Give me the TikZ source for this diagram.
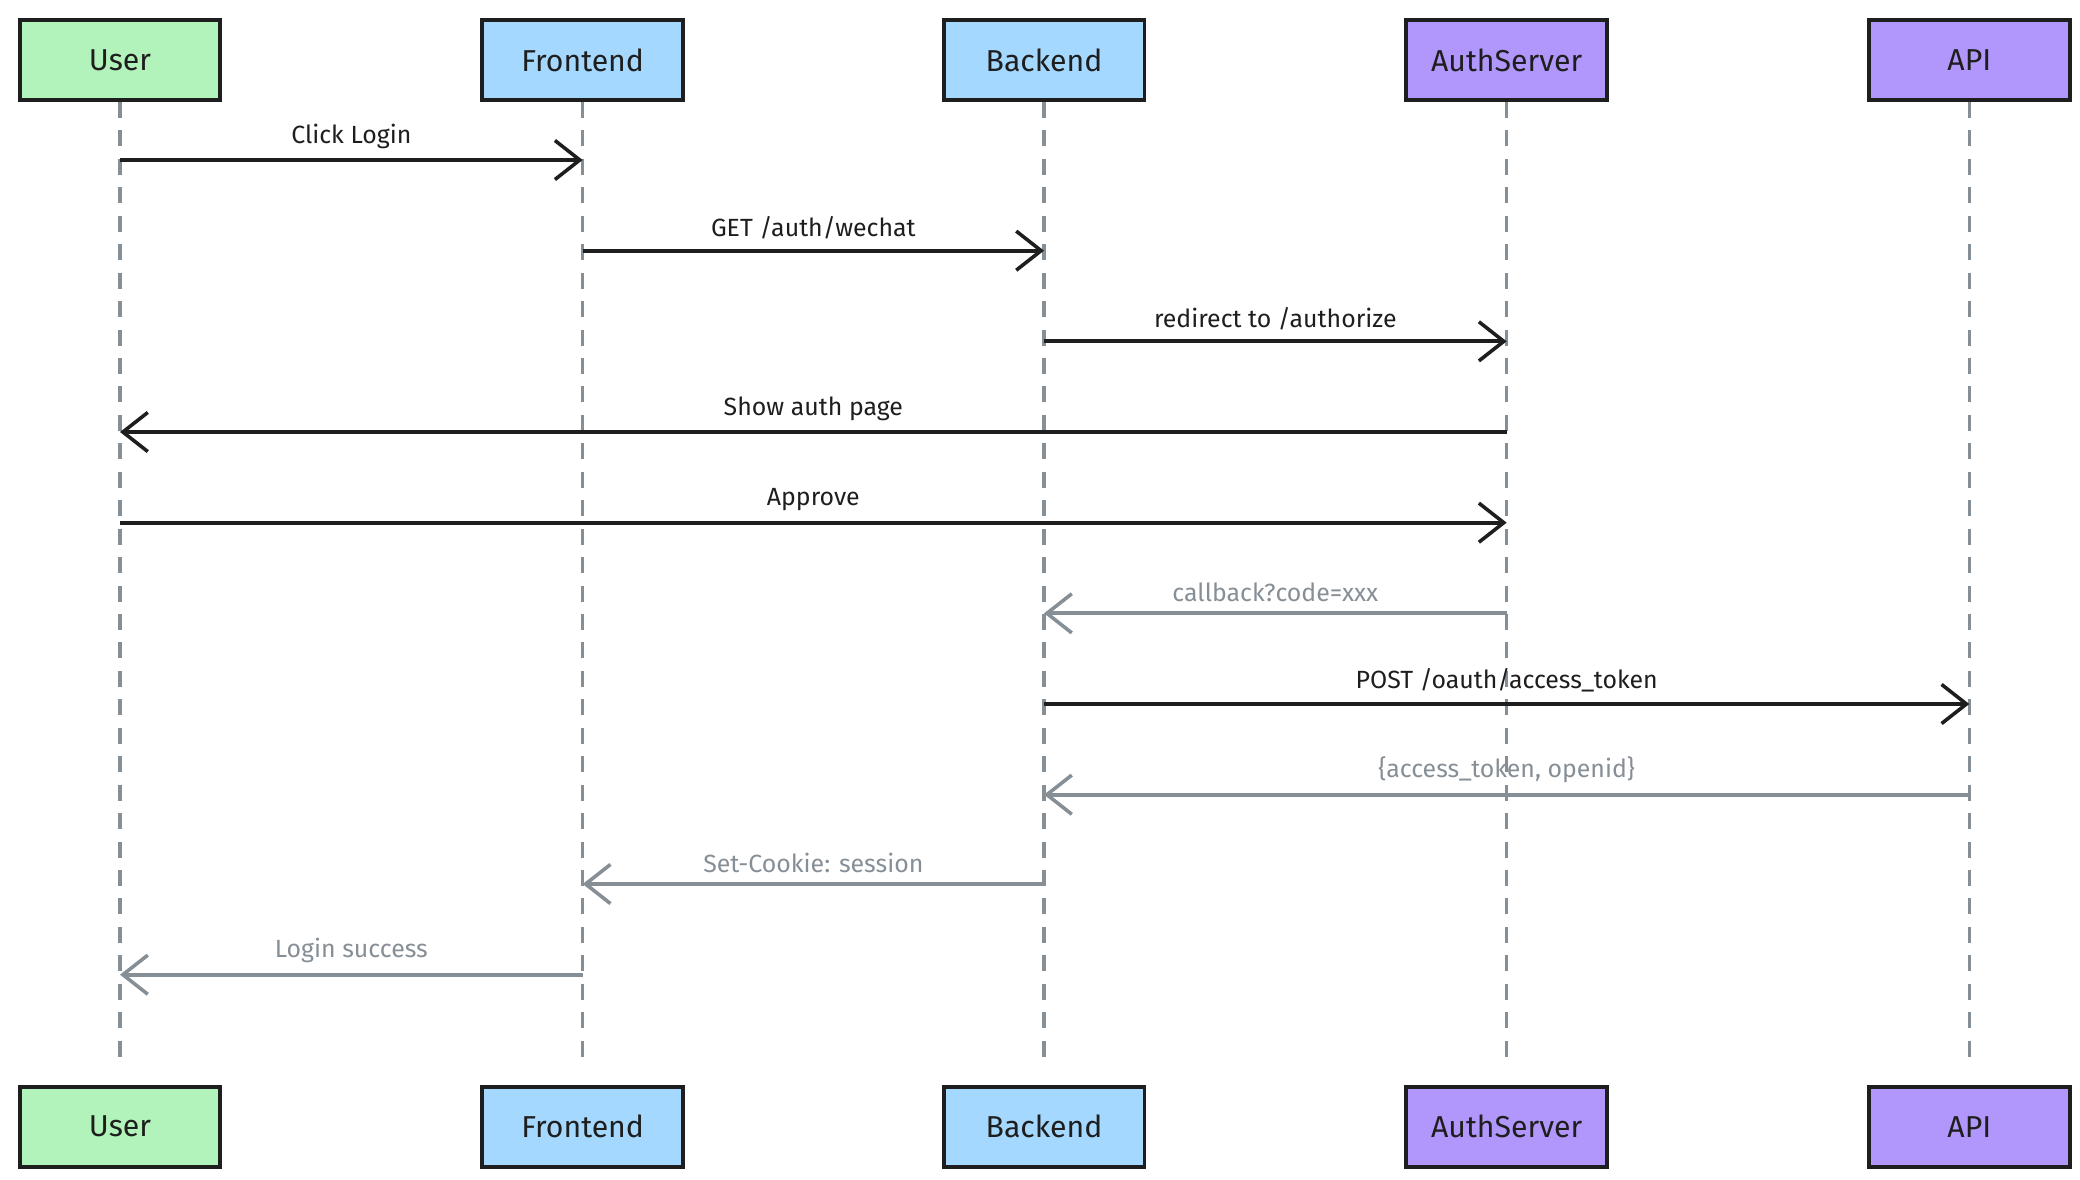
\documentclass[tikz,border=0pt]{standalone}
\usepackage{fontspec}
\setmainfont{Fira Sans}
\usetikzlibrary{arrows.meta}
\definecolor{cg}{HTML}{B2F2BB}
\definecolor{cb}{HTML}{A5D8FF}
\definecolor{cp}{HTML}{B197FC}
\definecolor{gr}{HTML}{868E96}
\definecolor{ink}{HTML}{1E1E1E}
\begin{document}
\begin{tikzpicture}[x=0.75pt,y=-0.75pt,
 actor/.style={draw=ink,line width=2.2pt,minimum width=113pt,minimum height=45pt,font=\fontsize{17}{20}\selectfont,text=ink},
 life/.style={gr,line width=2pt,dash pattern=on 9pt off 7pt},
 msg/.style={ink,line width=2.4pt,-{Straight Barb[length=14pt,width=22pt,line width=2pt]}},
 ret/.style={gr,line width=2.4pt,-{Straight Barb[length=14pt,width=22pt,line width=2pt]}},
 lab/.style={font=\fontsize{14}{16}\selectfont,text=ink,above=2pt},
 rlab/.style={font=\fontsize{14}{16}\selectfont,text=gr,above=2pt}]
\useasboundingbox (0,0) rectangle (1560,885);
\foreach \n/\x/\c/\t in {u/90/cg/User,f/437/cb/Frontend,b/783/cb/Backend,a/1130/cp/AuthServer,p/1477/cp/API}{
 \node[actor,fill=\c] (\n t) at (\x,45) {\t};
 \node[actor,fill=\c] (\n b) at (\x,845) {\t};
 \draw[life] (\n t.south) -- (\x,795);
 \coordinate (\n) at (\x,0);
}
\newcommand\msgl[7]{\path (#1 |- 0,#3) coordinate (s#7); \path (#2 |- 0,#3) coordinate (e#7);
 \draw[#4] (s#7) -- node[#5]{#6} (e#7);}
\msgl{u}{f}{120}{msg}{lab}{Click Login}{m1}
\msgl{f}{b}{188}{msg}{lab}{GET /auth/wechat}{m2}
\msgl{b}{a}{256}{msg}{lab}{redirect to /authorize}{m3}
\msgl{a}{u}{324}{msg}{lab}{Show auth page}{m4}
\msgl{u}{a}{392}{msg}{lab}{Approve}{m5}
\msgl{a}{b}{460}{ret}{rlab}{callback?code=xxx}{m6}
\msgl{b}{p}{528}{msg}{lab}{POST /oauth/access\_token}{m7}
\msgl{p}{b}{596}{ret}{rlab}{\{access\_token, openid\}}{m8}
\msgl{b}{f}{663}{ret}{rlab}{Set-Cookie: session}{m9}
\msgl{f}{u}{731}{ret}{rlab}{Login success}{m10}
\end{tikzpicture}
\end{document}
